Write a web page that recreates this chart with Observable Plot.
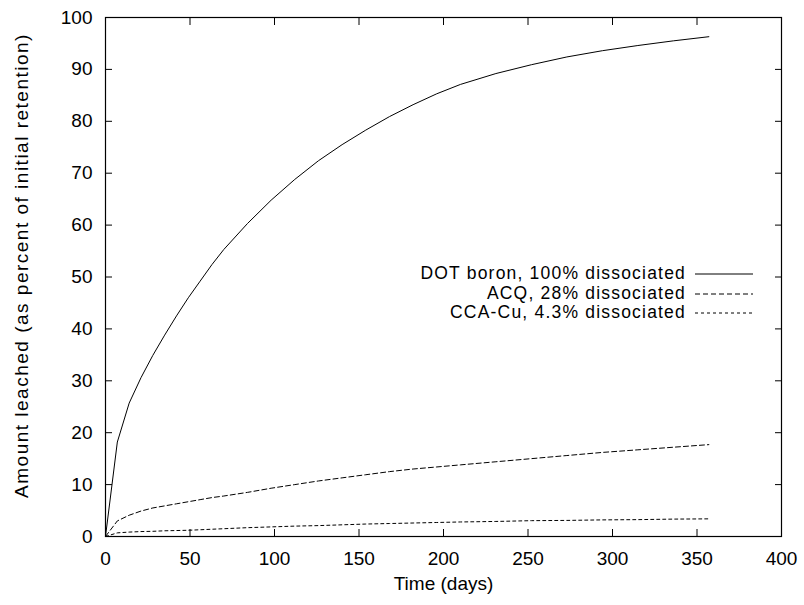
<!DOCTYPE html>
<html>
<head>
<meta charset="utf-8">
<script src="https://cdn.jsdelivr.net/npm/d3@7"></script>
<script src="https://cdn.jsdelivr.net/npm/@observablehq/plot@0.6"></script>
<style>
  html, body { margin: 0; padding: 0; background: #fff; }
  #wrap { position: relative; width: 804px; height: 605px; font-family: "Liberation Sans", Arial, Helvetica, sans-serif; }
  #legend { position: absolute; right: 51px; top: 264.25px; font-size: 17.5px; letter-spacing: 1.2px; line-height: 19.5px; color: #000; }
  #legend .row { display: flex; justify-content: flex-end; align-items: center; height: 19.5px; }
  #legend svg { margin-left: 9px; }
</style>
</head>
<body>
<div id="wrap"></div>
<script>
// Time (days)
const days = [0, 7, 14, 21, 28, 35, 42, 49, 56, 63, 70, 84, 98, 112, 126, 140, 154, 168, 182, 196, 210, 231, 252, 273, 294, 315, 336, 357];
// DOT boron, 100% dissociated
const dotBoron = [0, 18.2, 25.7, 30.6, 34.9, 38.8, 42.5, 46.0, 49.2, 52.4, 55.3, 60.3, 64.8, 68.8, 72.4, 75.5, 78.3, 80.9, 83.2, 85.3, 87.1, 89.2, 90.9, 92.4, 93.6, 94.6, 95.5, 96.3];
// ACQ, 28% dissociated
const acq = [0, 3.0, 4.1, 4.9, 5.5, 5.9, 6.3, 6.7, 7.1, 7.5, 7.8, 8.5, 9.3, 10.0, 10.7, 11.3, 11.9, 12.5, 13.0, 13.4, 13.8, 14.4, 15.0, 15.6, 16.2, 16.7, 17.2, 17.7];
// CCA-Cu, 4.3% dissociated
const ccaCu = [0, 0.7, 0.85, 0.95, 1.0, 1.1, 1.15, 1.2, 1.3, 1.4, 1.5, 1.7, 1.85, 2.0, 2.1, 2.25, 2.4, 2.5, 2.6, 2.7, 2.8, 2.9, 3.05, 3.1, 3.2, 3.25, 3.35, 3.4];

const seriesNames = ["DOT boron, 100% dissociated", "ACQ, 28% dissociated", "CCA-Cu, 4.3% dissociated"];
const seriesValues = [dotBoron, acq, ccaCu];
const seriesDash = ["none", "5,3", "3,3"];

const xTicks = [0, 50, 100, 150, 200, 250, 300, 350, 400];
const yTicks = [0, 10, 20, 30, 40, 50, 60, 70, 80, 90, 100];
const xLabel = "Time (days)";
const yLabel = "Amount leached (as percent of initial retention)";

const data = seriesNames.flatMap((name, i) => days.map((d, j) => ({series: name, day: d, value: seriesValues[i][j]})));

const lineMarks = seriesNames.map((name, i) =>
  Plot.line(data.filter(d => d.series === name), {
    x: "day", y: "value", stroke: "#000", strokeWidth: 1,
    strokeDasharray: seriesDash[i] === "none" ? undefined : seriesDash[i]
  })
);

const chart = Plot.plot({
  width: 804,
  height: 605,
  marginLeft: 105,
  marginRight: 23,
  marginTop: 17,
  marginBottom: 69,
  style: {fontSize: "19px", fontFamily: "'Liberation Sans', Arial, Helvetica, sans-serif", color: "#000", background: "#fff"},
  x: {domain: [0, 400]},
  y: {domain: [0, 100]},
  marks: [
    Plot.axisX({anchor: "bottom", ticks: xTicks, tickSize: -7, tickPadding: 22, label: null, stroke: "#000"}),
    Plot.axisX({anchor: "top", ticks: xTicks, tickSize: -7, tickFormat: () => "", label: null, stroke: "#000"}),
    Plot.axisY({anchor: "left", ticks: yTicks, tickSize: -7, tickPadding: 20, label: null, stroke: "#000"}),
    Plot.axisY({anchor: "right", ticks: yTicks, tickSize: -7, tickFormat: () => "", label: null, stroke: "#000"}),
    Plot.frame({stroke: "#000", strokeWidth: 1.2}),
    ...lineMarks,
    Plot.text([xLabel], {frameAnchor: "bottom", dy: 53, text: d => d, fontSize: 19, fill: "#000"}),
    Plot.text([yLabel], {frameAnchor: "left", textAnchor: "middle", dx: -84, dy: -11.5, rotate: -90, text: d => d, fontSize: 19, fill: "#000"})
  ]
});

d3.select(chart).selectAll("text")
  .filter(function() { return this.textContent === yLabel; })
  .style("letter-spacing", "1.5px");

const wrap = document.getElementById("wrap");
wrap.appendChild(chart);

const legend = document.createElement("div");
legend.id = "legend";
seriesNames.forEach((name, i) => {
  const row = document.createElement("div");
  row.className = "row";
  const span = document.createElement("span");
  span.textContent = name;
  row.appendChild(span);
  const svg = document.createElementNS("http://www.w3.org/2000/svg", "svg");
  svg.setAttribute("width", "58");
  svg.setAttribute("height", "4");
  const ln = document.createElementNS("http://www.w3.org/2000/svg", "line");
  ln.setAttribute("x1", "0"); ln.setAttribute("x2", "58");
  ln.setAttribute("y1", "2"); ln.setAttribute("y2", "2");
  ln.setAttribute("stroke", "#000");
  ln.setAttribute("stroke-width", "1");
  if (seriesDash[i] !== "none") ln.setAttribute("stroke-dasharray", seriesDash[i]);
  svg.appendChild(ln);
  row.appendChild(svg);
  legend.appendChild(row);
});
wrap.appendChild(legend);
</script>
</body>
</html>
